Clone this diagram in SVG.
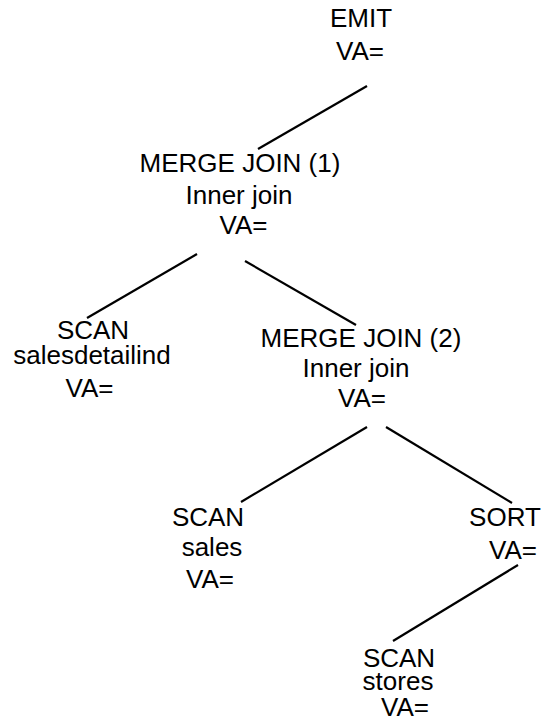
<svg xmlns="http://www.w3.org/2000/svg" width="544" height="720" viewBox="0 0 544 720">
<style>
text{font-family:"Liberation Sans",Arial,sans-serif;font-size:26px;fill:#000;text-anchor:middle}
line{stroke:#000;stroke-width:2.2;stroke-linecap:butt}
</style>
<rect width="544" height="720" fill="#fff"/>
<g id="connectors">
<line x1="367" y1="86" x2="258" y2="149"/>
<line x1="197" y1="254" x2="87" y2="318"/>
<line x1="245" y1="261" x2="356" y2="325"/>
<line x1="367" y1="427" x2="241" y2="502"/>
<line x1="386" y1="427" x2="512" y2="503"/>
<line x1="518" y1="565" x2="393" y2="641"/>
</g>
<g id="emit">
<text x="361" y="27">EMIT</text>
<text x="360" y="60">VA=</text>
</g>
<g id="mj1">
<text x="240" y="172">MERGE JOIN (1)</text>
<text x="239" y="204">Inner join</text>
<text x="243.5" y="234">VA=</text>
</g>
<g id="scan-salesdetailind">
<text x="93" y="339">SCAN</text>
<text x="92" y="364">salesdetailind</text>
<text x="89.5" y="397">VA=</text>
</g>
<g id="mj2">
<text x="361" y="347">MERGE JOIN (2)</text>
<text x="356" y="377">Inner join</text>
<text x="362" y="407">VA=</text>
</g>
<g id="scan-sales">
<text x="208" y="526">SCAN</text>
<text x="212" y="556">sales</text>
<text x="210" y="588">VA=</text>
</g>
<g id="sort">
<text x="505" y="526">SORT</text>
<text x="513" y="559">VA=</text>
</g>
<g id="scan-stores">
<text x="399" y="667">SCAN</text>
<text x="398" y="690">stores</text>
<text x="405" y="716">VA=</text>
</g>
</svg>
